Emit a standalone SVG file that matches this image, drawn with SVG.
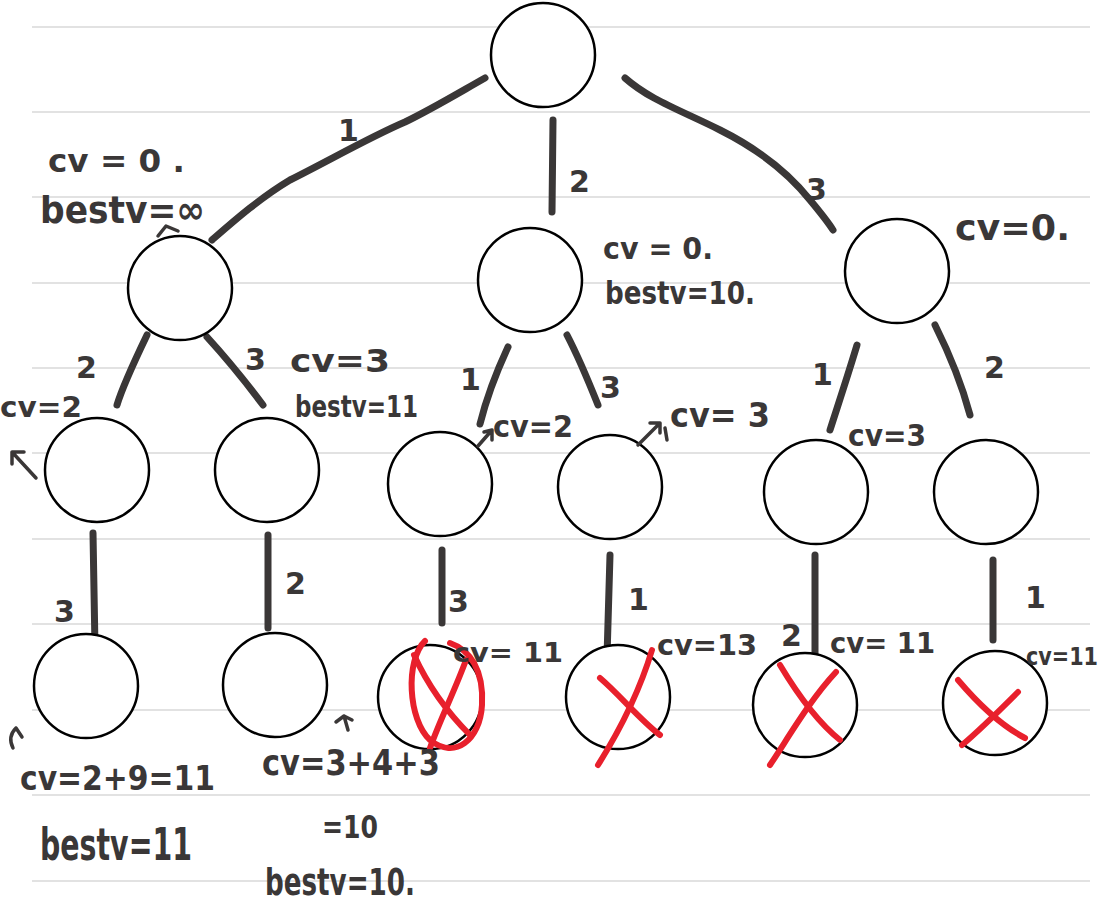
<svg xmlns="http://www.w3.org/2000/svg" width="1114" height="902" viewBox="0 0 1114 902">
<style>
.rule{stroke:#d9d9d9;stroke-width:1.5}
.node{fill:#ffffff;stroke:#000000;stroke-width:2.5}
.edge{fill:none;stroke:#3a3737;stroke-width:7;stroke-linecap:round;stroke-linejoin:round}
.thin{fill:none;stroke:#3a3737;stroke-width:3.5;stroke-linecap:round;stroke-linejoin:round}
.x{fill:none;stroke:#e8202c;stroke-width:6;stroke-linecap:round;stroke-linejoin:round}
.t{font-family:"DejaVu Sans",sans-serif;font-weight:bold;fill:#3a3737}
.lbl{font-family:"DejaVu Sans",sans-serif;font-weight:bold;fill:#3a3737;font-size:30px}
</style>
<rect width="1114" height="902" fill="#ffffff"/>
<g id="ruling">
<line class="rule" x1="32" y1="27" x2="1090" y2="27"/>
<line class="rule" x1="32" y1="112" x2="1090" y2="112"/>
<line class="rule" x1="32" y1="197" x2="1090" y2="197"/>
<line class="rule" x1="32" y1="283" x2="1090" y2="283"/>
<line class="rule" x1="32" y1="368" x2="1090" y2="368"/>
<line class="rule" x1="32" y1="453" x2="1090" y2="453"/>
<line class="rule" x1="32" y1="539" x2="1090" y2="539"/>
<line class="rule" x1="32" y1="624" x2="1090" y2="624"/>
<line class="rule" x1="32" y1="710" x2="1090" y2="710"/>
<line class="rule" x1="32" y1="795" x2="1090" y2="795"/>
<line class="rule" x1="32" y1="881" x2="1090" y2="881"/>
</g>
<g id="connectors">
<path class="edge" d="M485,78 C455,95 430,110 405,122 C370,137 330,160 290,180 C260,198 235,220 212,240"/>
<path class="edge" d="M553,120 L552,212"/>
<path class="edge" d="M625,78 C650,100 680,110 720,130 C760,150 790,175 810,200 C820,212 828,222 833,230"/>
<path class="edge" d="M147,335 C135,360 123,385 117,405"/>
<path class="edge" d="M207,337 C228,360 248,385 263,405"/>
<path class="edge" d="M508,347 C495,375 486,400 480,424"/>
<path class="edge" d="M567,335 C580,360 590,385 598,405"/>
<path class="edge" d="M857,345 C848,375 838,405 830,430"/>
<path class="edge" d="M935,325 C950,355 962,385 970,415"/>
<path class="edge" d="M93,533 L95,648"/>
<path class="edge" d="M268,535 L268,628"/>
<path class="edge" d="M442,550 L442,623"/>
<path class="edge" d="M610,555 L607,657"/>
<path class="edge" d="M815,555 L815,655"/>
<path class="edge" d="M993,560 L993,640"/>
</g>
<g id="edge-labels">
<text class="lbl" x="338" y="141" font-size="26">1</text>
<text class="lbl" x="569" y="192">2</text>
<text class="lbl" x="806" y="200">3</text>
<text class="lbl" x="76" y="378">2</text>
<text class="lbl" x="245" y="370">3</text>
<text class="lbl" x="460" y="390">1</text>
<text class="lbl" x="600" y="398">3</text>
<text class="lbl" x="812" y="385">1</text>
<text class="lbl" x="984" y="378" font-size="24">2</text>
<text class="lbl" x="54" y="622" font-size="38">3</text>
<text class="lbl" x="285" y="594">2</text>
<text class="lbl" x="448" y="612">3</text>
<text class="lbl" x="628" y="610">1</text>
<text class="lbl" x="781" y="646">2</text>
<text class="lbl" x="1025" y="608" font-size="26">1</text>
</g>
<g id="n-root"><circle class="node" cx="543" cy="55" r="52"/></g>
<g id="n-1"><circle class="node" cx="180" cy="288" r="52"/></g>
<g id="n-2"><circle class="node" cx="530" cy="280" r="52"/></g>
<g id="n-3"><circle class="node" cx="897" cy="271" r="52"/></g>
<g id="n-12"><circle class="node" cx="97" cy="470" r="52"/></g>
<g id="n-13"><circle class="node" cx="267" cy="470" r="52"/></g>
<g id="n-21"><circle class="node" cx="440" cy="484" r="52"/></g>
<g id="n-23"><circle class="node" cx="610" cy="487" r="52"/></g>
<g id="n-31"><circle class="node" cx="816" cy="492" r="52"/></g>
<g id="n-32"><circle class="node" cx="986" cy="492" r="52"/></g>
<g id="n-123"><circle class="node" cx="86" cy="686" r="52"/></g>
<g id="n-132"><circle class="node" cx="275" cy="685" r="52"/></g>
<g id="n-213"><circle class="node" cx="430" cy="697" r="52"/>
<path class="x" d="M425,641 C405,660 408,720 430,740 C455,760 480,740 482,705 C484,670 470,650 450,643"/>
<path class="x" d="M414,655 C430,690 450,715 470,735"/>
<path class="x" d="M466,660 C455,690 440,720 430,748"/>
</g>
<g id="n-231"><circle class="node" cx="618" cy="697" r="52"/>
<path class="x" d="M652,650 C640,690 620,730 598,765"/>
<path class="x" d="M600,678 C620,695 640,720 660,735"/>
</g>
<g id="n-312"><circle class="node" cx="805" cy="705" r="52"/>
<path class="x" d="M836,672 C810,700 790,735 770,765"/>
<path class="x" d="M780,665 C795,690 815,720 840,740"/>
</g>
<g id="n-321"><circle class="node" cx="995" cy="703" r="52"/>
<path class="x" d="M958,680 C975,700 1000,725 1025,738"/>
<path class="x" d="M962,745 C980,730 1000,710 1018,692"/>
</g>
<g id="annotations">
<text class="t" x="48" y="172" font-size="32" textLength="137" lengthAdjust="spacingAndGlyphs">cv = 0 .</text>
<text class="t" x="40" y="223" font-size="38" textLength="165" lengthAdjust="spacingAndGlyphs">bestv=∞</text>
<path class="thin" d="M158,236 L166,226 L178,231"/>
<text class="t" x="603" y="259" font-size="30" textLength="110" lengthAdjust="spacingAndGlyphs">cv = 0.</text>
<text class="t" x="605" y="304" font-size="32" textLength="150" lengthAdjust="spacingAndGlyphs">bestv=10.</text>
<text class="t" x="955" y="240" font-size="36" textLength="115" lengthAdjust="spacingAndGlyphs">cv=0.</text>
<text class="t" x="0" y="417" font-size="28" textLength="82" lengthAdjust="spacingAndGlyphs">cv=2</text>
<text class="t" x="290" y="372" font-size="32" textLength="100" lengthAdjust="spacingAndGlyphs">cv=3</text>
<text class="t" x="295" y="417" font-size="30" textLength="123" lengthAdjust="spacingAndGlyphs">bestv=11</text>
<text class="t" x="493" y="437" font-size="30" textLength="80" lengthAdjust="spacingAndGlyphs">cv=2</text>
<path class="thin" d="M478,446 L492,430 M484,432 L492,430 L492,440"/>
<text class="t" x="670" y="427" font-size="34" textLength="100" lengthAdjust="spacingAndGlyphs">cv= 3</text>
<path class="thin" d="M638,445 L660,423 M650,423 L660,423 L660,433 M665,428 L667,440"/>
<text class="t" x="848" y="446" font-size="30" textLength="78" lengthAdjust="spacingAndGlyphs">cv=3</text>
<path class="thin" d="M36,478 L12,452 M12,452 L12,464 M12,452 L24,452"/>
<text class="t" x="453" y="662" font-size="26" textLength="110" lengthAdjust="spacingAndGlyphs">cv= 11</text>
<text class="t" x="657" y="655" font-size="28" textLength="100" lengthAdjust="spacingAndGlyphs">cv=13</text>
<text class="t" x="830" y="653" font-size="28" textLength="105" lengthAdjust="spacingAndGlyphs">cv= 11</text>
<text class="t" x="1026" y="665" font-size="24" textLength="72" lengthAdjust="spacingAndGlyphs">cv=11</text>
<path class="thin" d="M13,748 C9,740 11,733 16,728 M16,728 L22,737"/>
<text class="t" x="20" y="790" font-size="34" textLength="195" lengthAdjust="spacingAndGlyphs">cv=2+9=11</text>
<text class="t" x="40" y="860" font-size="44" textLength="152" lengthAdjust="spacingAndGlyphs">bestv=11</text>
<path class="thin" d="M348,730 L344,716 M336,722 L344,716 L352,720"/>
<text class="t" x="262" y="775" font-size="36" textLength="178" lengthAdjust="spacingAndGlyphs">cv=3+4+3</text>
<text class="t" x="322" y="838" font-size="32" textLength="56" lengthAdjust="spacingAndGlyphs">=10</text>
<text class="t" x="265" y="895" font-size="38" textLength="150" lengthAdjust="spacingAndGlyphs">bestv=10.</text>
</g>
</svg>
